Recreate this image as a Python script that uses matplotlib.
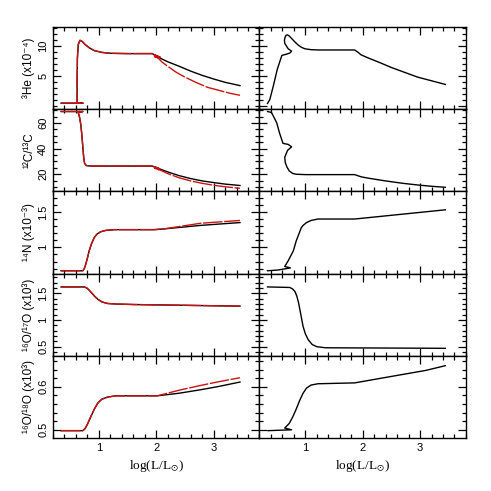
import numpy as np
import matplotlib
matplotlib.use("Agg")
import matplotlib.pyplot as plt
from matplotlib.ticker import MultipleLocator

plt.rcParams['font.family'] = ['Liberation Sans', 'DejaVu Sans']
plt.rcParams['mathtext.fontset'] = 'stix'

RED = '#cc1111'

# ---- left column: common part, then black tail and red tail (log L, value) ----
he3_x = [0.34, 0.72, 0.62, 0.62, 0.625, 0.64, 0.67, 0.71, 0.76, 0.84, 0.92, 1.05, 1.2, 1.5, 1.93]
he3_y = [0.5, 0.5, 0.5, 4.0, 8.0, 10.2, 10.9, 10.7, 10.2, 9.6, 9.2, 8.9, 8.75, 8.7, 8.7]
he3_blk_x = [2.02, 2.1, 2.2, 2.4, 2.6, 2.8, 3.0, 3.2, 3.46]
he3_blk_y = [8.2, 7.8, 7.35, 6.6, 5.8, 5.1, 4.5, 3.95, 3.4]
he3_red_x = [2.07, 1.96, 2.05, 1.97, 2.02, 2.1, 2.2, 2.35, 2.5, 2.7, 2.9, 3.1, 3.3, 3.46]
he3_red_y = [8.1, 8.5, 7.9, 8.2, 8.1, 7.3, 6.6, 5.6, 4.8, 3.9, 3.1, 2.6, 2.1, 1.8]

c12_x = [0.34, 0.72, 0.64, 0.66, 0.68, 0.70, 0.72, 0.735, 0.75, 0.78, 0.85, 1.03, 1.93]
c12_y = [69.0, 69.0, 68.2, 65.0, 60.0, 52.0, 41.0, 33.0, 28.5, 26.8, 26.4, 26.4, 26.4]
c12_blk_x = [2.08, 2.2, 2.4, 2.6, 2.8, 3.0, 3.2, 3.46]
c12_blk_y = [23.8, 21.8, 18.9, 16.6, 14.8, 13.5, 12.3, 11.2]
c12_red_x = [2.06, 1.96, 2.04, 1.97, 2.08, 2.2, 2.4, 2.6, 2.8, 3.0, 3.2, 3.46]
c12_red_y = [24.3, 26.0, 23.6, 24.8, 23.0, 20.5, 17.2, 14.8, 12.9, 11.4, 10.2, 9.0]

n14_x = [0.34, 0.72, 0.745, 0.77, 0.80, 0.83, 0.87, 0.92, 0.97, 1.03, 1.12, 1.27, 1.96, 2.13]
n14_y = [0.67, 0.67, 0.70, 0.76, 0.85, 0.95, 1.05, 1.14, 1.19, 1.22, 1.24, 1.25, 1.25, 1.26]
n14_blk_x = [2.77, 3.46]
n14_blk_y = [1.31, 1.35]
n14_red_x = [2.77, 3.46]
n14_red_y = [1.34, 1.38]

o17_x = [0.34, 0.745, 0.79, 0.83, 0.88, 0.93, 0.98, 1.05, 1.15, 1.3, 1.61, 3.46]
o17_y = [1.62, 1.62, 1.60, 1.56, 1.50, 1.44, 1.39, 1.34, 1.31, 1.30, 1.29, 1.26]

o18_x = [0.34, 0.72, 0.76, 0.80, 0.86, 0.92, 0.98, 1.05, 1.15, 1.3, 2.02]
o18_y = [0.498, 0.498, 0.503, 0.513, 0.531, 0.548, 0.562, 0.571, 0.576, 0.579, 0.579]
o18_blk_x = [2.4, 2.77, 3.1, 3.46]
o18_blk_y = [0.585, 0.593, 0.601, 0.611]
o18_red_x = [2.4, 2.77, 3.1, 3.46]
o18_red_y = [0.592, 0.603, 0.612, 0.621]

# ---- right column: single black track ----
r_he3_x = [0.34, 0.38, 0.44, 0.51, 0.59, 0.67, 0.73, 0.76, 0.70, 0.64, 0.635, 0.645, 0.665,
           0.69, 0.72, 0.76, 0.82, 0.87, 0.93, 0.99, 1.1, 1.22, 1.86, 1.92, 1.97, 2.09,
           2.3, 2.5, 2.7, 2.96, 3.2, 3.44]
r_he3_y = [0.45, 1.1, 3.3, 6.1, 8.4, 8.6, 8.8, 9.1, 9.5, 10.4, 10.9, 11.4, 11.75,
           11.8, 11.6, 11.2, 10.6, 10.15, 9.75, 9.5, 9.35, 9.3, 9.3, 8.9, 8.5, 8.0,
           7.2, 6.4, 5.7, 4.8, 4.2, 3.6]
r_c12_x = [0.34, 0.41, 0.50, 0.55, 0.61, 0.70, 0.76, 0.69, 0.64, 0.65, 0.68, 0.72, 0.78,
           0.84, 1.0, 1.86, 1.97, 2.1, 2.38, 2.7, 2.96, 3.2, 3.44]
r_c12_y = [69.0, 68.2, 60.2, 52.1, 44.1, 43.3, 41.4, 38.7, 33.3, 29.0, 25.5, 22.5, 20.6,
           20.0, 19.7, 19.7, 18.0, 16.9, 14.9, 12.9, 11.6, 10.6, 9.8]
r_n14_x = [0.34, 0.52, 0.74, 0.64, 0.70, 0.79, 0.84, 0.93, 0.96, 1.02, 1.1, 1.22, 1.86, 3.44]
r_n14_y = [0.67, 0.68, 0.71, 0.73, 0.81, 0.95, 1.09, 1.28, 1.31, 1.35, 1.38, 1.40, 1.40, 1.53]
r_o17_x = [0.34, 0.73, 0.78, 0.82, 0.85, 0.88, 0.90, 0.93, 0.96, 1.0, 1.05, 1.12, 1.2, 1.35, 3.44]
r_o17_y = [1.62, 1.61, 1.58, 1.53, 1.45, 1.33, 1.22, 1.05, 0.88, 0.74, 0.63, 0.54, 0.50, 0.48, 0.47]
r_o18_x = [0.35, 0.76, 0.64, 0.72, 0.78, 0.84, 0.9, 0.96, 1.02, 1.1, 1.22, 1.86, 2.2, 2.67, 3.1, 3.44]
r_o18_y = [0.498, 0.500, 0.504, 0.515, 0.530, 0.548, 0.568, 0.585, 0.597, 0.604, 0.607,
           0.609, 0.617, 0.628, 0.638, 0.649]

ylabels = ['³He (x10⁻⁴)', '¹²C/¹³C', '¹⁴N (x10⁻³)', '¹⁶O/¹⁷O (x10³)', '¹⁶O/¹⁸O (x10³)']
ylims = [(-0.5, 13.1), (6.6, 70.8), (0.63, 1.79), (0.33, 1.87), (0.481, 0.672)]
ymajor = [5, 20, 0.5, 0.5, 0.1]
yminor = [1, 5, 0.1, 0.1, 0.02]
yticks = [[5, 10], [20, 40, 60], [1, 1.5], [0.5, 1, 1.5], [0.5, 0.6]]
yticklabels = [['5', '10'], ['20', '40', '60'], ['1', '1.5'], ['0.5', '1', '1.5'], ['0.5', '0.6']]

left = [
    (he3_x, he3_y, he3_blk_x, he3_blk_y, he3_red_x, he3_red_y),
    (c12_x, c12_y, c12_blk_x, c12_blk_y, c12_red_x, c12_red_y),
    (n14_x, n14_y, n14_blk_x, n14_blk_y, n14_red_x, n14_red_y),
    (o17_x, o17_y, [], [], [], []),
    (o18_x, o18_y, o18_blk_x, o18_blk_y, o18_red_x, o18_red_y),
]
right = [(r_he3_x, r_he3_y), (r_c12_x, r_c12_y), (r_n14_x, r_n14_y),
         (r_o17_x, r_o17_y), (r_o18_x, r_o18_y)]

fig, axes = plt.subplots(5, 2, figsize=(4.91, 4.91), dpi=100, sharex=True)
fig.subplots_adjust(left=0.108, right=0.949, top=0.945, bottom=0.108,
                    hspace=0, wspace=0)

red_ls = (0, (14, 1.2))

for i in range(5):
    ax_l, ax_r = axes[i]
    cx, cy, bx, by, rx, ry = left[i]
    # black track = common part + black tail, red track = common part + red tail
    ax_l.plot(list(cx) + list(bx), list(cy) + list(by), color='black', lw=1.0)
    ax_l.plot(list(cx) + list(rx), list(cy) + list(ry), color=RED, lw=1.0, ls=red_ls)
    ax_r.plot(right[i][0], right[i][1], color='black', lw=1.0)

    for ax in (ax_l, ax_r):
        ax.set_xlim(0.2, 3.8)
        ax.set_ylim(*ylims[i])
        ax.xaxis.set_major_locator(MultipleLocator(1))
        ax.xaxis.set_minor_locator(MultipleLocator(0.2))
        ax.yaxis.set_major_locator(MultipleLocator(ymajor[i]))
        ax.yaxis.set_minor_locator(MultipleLocator(yminor[i]))
        ax.tick_params(which='both', direction='in', top=True, right=True,
                       width=0.9, labelsize=8)
        ax.tick_params(which='major', length=6)
        ax.tick_params(which='minor', length=3)
        for sp in ax.spines.values():
            sp.set_linewidth(1.0)
        if i < 4:
            ax.tick_params(labelbottom=False)

    ax_l.set_yticks(yticks[i])
    ax_l.set_yticklabels(yticklabels[i], rotation=90, va='center')
    ax_l.yaxis.set_minor_locator(MultipleLocator(yminor[i]))
    ax_l.set_ylabel(ylabels[i], fontsize=8.5, labelpad=2)
    ax_r.tick_params(labelleft=False)

for ax in axes[4]:
    ax.set_xticks([1, 2, 3])
    ax.set_xticklabels(['1', '2', '3'])
    ax.set_xlabel(r'log(L/L$_{\odot}$)', fontsize=9.5, family='Liberation Serif')

fig.savefig('out.png', dpi=100)
